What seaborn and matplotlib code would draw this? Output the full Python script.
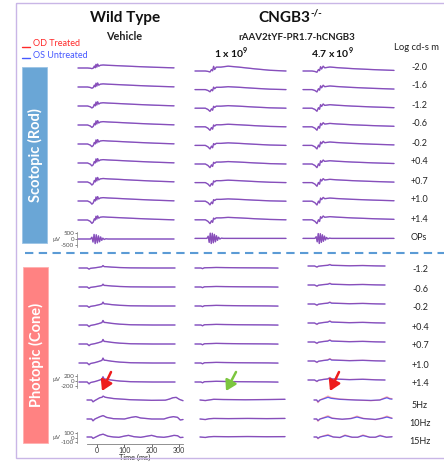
import pandas as pd
import matplotlib
matplotlib.use("Agg")
import matplotlib.pyplot as plt
from matplotlib.patches import Rectangle
import seaborn as sns

W, H = 444, 462
RED = "#ff2a2a"
BLUE = "#4658ff"

# ---------------- data (uV vs ms) ----------------
scot_labels = ["-2.0", "-1.6", "-1.2", "-0.6", "-0.2", "+0.4", "+0.7", "+1.0", "+1.4", "OPs"]
phot_labels = ["-1.2", "-0.6", "-0.2", "+0.4", "+0.7", "+1.0", "+1.4"]
flick_labels = ["5Hz", "10Hz", "15Hz"]

# scotopic flash: time, a-wave shape, b-wave shape, per-row gains
wt_scot_t = [-70, -35, -25, -19, -14, -10, -7, -4, -1, 2, 6, 12, 22, 40, 80, 140, 210, 282]
wt_scot_a = [0, 0, -0.4, -1.0, -0.7, -0.3, -0.1, 0, 0, 0, 0, 0, 0, 0, 0, 0, 0, 0]
wt_scot_b = [0, 0, 0, 0, 0.1, 0.7, 0.1, 1.2, 0.3, 1.3, 0.6, 0.9, 1.0, 0.9, 0.75, 0.5, 0.25, 0.05]
wt_scot_again = [50, 100, 160, 200, 220, 240, 250, 260, 280]
wt_scot_bgain = [250, 260, 270, 280, 280, 280, 290, 280, 260]

lo_scot_t = [-70, -30, -20, -12, -6, -2, 2, 6, 12, 30, 58, 100, 160, 220, 282]
lo_scot_a = [0, 0, -0.4, -1.0, -0.5, -0.8, -0.2, 0, 0, 0, 0, 0, 0, 0, 0]
lo_scot_b = [0, 0, 0, 0, 0.4, 0.2, 1.0, 0.3, 0.8, 0.8, 1.0, 0.8, 0.45, 0.15, 0.0]
lo_scot_again = [80, 180, 260, 290, 290, 300, 300, 300, 310]
lo_scot_bgain = [400, 240, 210, 210, 210, 200, 200, 190, 200]

hi_scot_t = [-70, -35, -24, -16, -10, -6, -2, 2, 8, 14, 34, 60, 120, 200, 282]
hi_scot_a = [0, 0, -0.4, -1.0, -0.4, -0.7, -0.1, 0, 0, 0, 0, 0, 0, 0, 0]
hi_scot_b = [0, 0, 0, 0, 0.5, 0.3, 1.1, 0.5, 1.2, 0.8, 1.0, 0.85, 0.6, 0.35, 0.15]
hi_scot_again = [100, 190, 250, 280, 290, 300, 300, 310, 310]
hi_scot_bgain = [330, 300, 290, 280, 280, 270, 270, 260, 260]

# oscillatory potentials
ops_t = [-70, -24, -19, -15, -11, -7, -3, 1, 5, 9, 13, 17, 21, 26, 32, 40, 282]
wt_ops = [0, 0, 150, -250, 380, -380, 350, -320, 260, -230, 170, -110, 70, -40, 20, 0, 0]
lo_ops = [0, 0, 180, -330, 430, -420, 420, -360, 330, -280, 220, -160, 100, -50, 20, 0, 0]
hi_ops = [0, 0, 140, -280, 400, -420, 390, -330, 300, -240, 190, -130, 80, -40, 20, 0, 0]

# photopic flash
wt_phot_t = [-70, -40, -33, -28, -10, 5, 14, 18, 22, 30, 50, 80, 120, 200, 282]
wt_phot_a = [0, 0, -1, -0.3, 0, 0, 0, 0, 0, 0, 0, 0, 0, 0, 0]
wt_phot_b = [0, 0, 0, 0, 0.15, 0.5, 0.75, 1.4, 0.8, 0.75, 0.5, 0.25, 0.08, 0, 0]
wt_phot_again = [45, 55, 55, 65, 65, 70, 75]
wt_phot_bgain = [70, 80, 110, 130, 130, 140, 150]

lo_phot_t = [-70, -45, -38, -30, 0, 20, 60, 120, 180, 240, 282]
lo_phot_a = [0, 0, -1, 0, 0, 0, 0, 0, 0, 0, 0]
lo_phot_b = [0, 0, 0, 0.3, 0.5, 0.7, 0.5, 0.3, 0.2, 0.1, -0.1]
lo_phot_again = [25, 25, 25, 30, 30, 30, 30]
lo_phot_bgain = [30, 30, 35, 35, 35, 35, 40]

hi_phot_t = [-70, -40, -29, -22, 0, 20, 30, 38, 60, 120, 180, 240, 282]
hi_phot_a = [0, 0, -1, -0.2, 0, 0, 0, 0, 0, 0, 0, 0, 0]
hi_phot_b = [0, 0, 0, 0, 0.3, 0.6, 1.2, 0.6, 0.5, 0.2, 0.4, 0.1, 0.0]
hi_phot_again = [40, 45, 45, 50, 50, 50, 55]
hi_phot_bgain = [45, 50, 55, 60, 60, 65, 70]

# flicker (uV)
wt_5hz_t = [-37, -20, -15, -8, 10, 18, 22, 30, 60, 120, 200, 250, 265, 278, 290, 302, 315]
wt_5hz_v = [0, 0, -40, -11, 50, 60, 85, 60, 32, 7, -7, -4, 20, 50, 58, 13, -15]
wt_10hz_t = [-37, -20, -15, -8, 10, 22, 35, 60, 100, 125, 142, 160, 200, 245, 262, 280, 295, 305, 315]
wt_10hz_v = [0, 0, -40, 0, 50, 75, 35, 7, 0, 36, 52, 22, 0, 0, 32, 52, 36, -22, -11]
wt_15hz_t = [-37, -20, -15, -5, 10, 22, 40, 60, 80, 100, 115, 135, 160, 185, 200, 220, 245, 265, 282, 295, 305, 315]
wt_15hz_v = [0, 0, -30, 0, 44, 62, 18, 0, -7, 20, 36, 7, -7, 20, 36, 4, -7, 12, 36, 28, -12, -7]

lo_5hz_t = [-37, -15, 0, 20, 60, 150, 250, 315]
lo_5hz_v = [0, -12, 0, 15, 10, 5, 10, 15]
lo_10hz_t = [-37, -15, 0, 20, 80, 160, 240, 315]
lo_10hz_v = [0, -12, 5, 12, 8, 12, 8, 12]
lo_15hz_t = [-37, -15, 0, 20, 80, 160, 240, 315]
lo_15hz_v = [0, -10, 4, 10, 6, 10, 6, 8]

hi_5hz_t = [-37, -25, -19, -10, 10, 26, 40, 80, 150, 220, 260, 280, 292, 305, 315]
hi_5hz_v = [0, 0, -40, 0, 32, 60, 38, 15, 0, -10, 0, 32, 50, 25, 20]
hi_10hz_t = [-37, -25, -19, -10, 10, 26, 45, 90, 130, 157, 185, 240, 270, 292, 310, 315]
hi_10hz_v = [0, 0, -35, 0, 28, 50, 15, -5, 10, 44, 10, -10, 15, 44, 20, 15]
hi_15hz_t = [-37, -25, -19, -10, 10, 26, 50, 80, 103, 135, 160, 184, 215, 240, 261, 290, 315]
hi_15hz_v = [0, 0, -28, 0, 22, 38, 0, -10, 32, -5, -5, 32, -5, -5, 28, -5, 5]

# treated (OD) / untreated (OS) amplitude ratio per column
od_ratio_scot = [1.0, 1.03, 1.02]
od_ratio_phot = [1.0, 1.1, 1.25]
od_ratio_flick = [1.0, 1.15, 1.45]

# ---------------- helpers ----------------
sns.set_theme(style="white")
plt.rcParams["font.family"] = ["Lato", "DejaVu Sans"]
plt.rcParams["mathtext.fontset"] = "custom"
plt.rcParams["mathtext.rm"] = "Lato"
plt.rcParams["mathtext.bf"] = "Lato:bold"

fig = plt.figure(figsize=(W / 100, H / 100), dpi=100)


def px_axes(x0, x1, top, bottom):
    ax = fig.add_axes([x0 / W, 1 - bottom / H, (x1 - x0) / W, (bottom - top) / H])
    ax.patch.set_alpha(0)
    return ax


def block(x0, x1, top, bottom, rows_px, k, xlim):
    ax = px_axes(x0, x1, top, bottom)
    ref = rows_px[0]
    ax.set_xlim(xlim)
    ax.set_ylim(-(bottom - ref) * k, (ref - top) * k)
    ax.set_axis_off()
    return ax, [-(r - ref) * k for r in rows_px]


def draw(ax, traces, offsets, od_ratio):
    recs = []
    for i, (t, v) in enumerate(traces):
        for tt, vv in zip(t, v):
            recs.append((tt, vv + offsets[i], i, "OS"))
            recs.append((tt, vv * od_ratio + offsets[i], i, "OD"))
    df = pd.DataFrame(recs, columns=["t", "v", "row", "eye"])
    sns.lineplot(data=df[df.eye == "OS"], x="t", y="v", units="row", estimator=None,
                 sort=False, color=BLUE, lw=0.95, alpha=0.95, ax=ax)
    sns.lineplot(data=df[df.eye == "OD"], x="t", y="v", units="row", estimator=None,
                 sort=False, color=RED, lw=0.95, alpha=0.33, ax=ax)
    for ln in ax.lines:
        ln.set_clip_on(False)
    ax.set_axis_off()


def flash_rows(t, a_shape, b_shape, a_gain, b_gain):
    return [(t, [ga * a + gb * b for a, b in zip(a_shape, b_shape)])
            for ga, gb in zip(a_gain, b_gain)]


# ---------------- scotopic ----------------
K_SCOT, K_PHOT, K_FLICK = 83, 40, 22
rows_scot_1 = [68 + 19 * i for i in range(10)]
rows_scot_23 = [71 + 18.6 * i for i in range(10)]

scot_cols = [
    (78, 174, rows_scot_1, wt_scot_t, wt_scot_a, wt_scot_b, wt_scot_again, wt_scot_bgain, wt_ops),
    (195, 286, rows_scot_23, lo_scot_t, lo_scot_a, lo_scot_b, lo_scot_again, lo_scot_bgain, lo_ops),
    (303, 394, rows_scot_23, hi_scot_t, hi_scot_a, hi_scot_b, hi_scot_again, hi_scot_bgain, hi_ops),
]
for c, (x0, x1, rows, t, a, b, ga, gb, ops) in enumerate(scot_cols):
    ax, offs = block(x0, x1, 58, 250, rows, K_SCOT, (-70, 282))
    draw(ax, flash_rows(t, a, b, ga, gb) + [(ops_t, ops)], offs, od_ratio_scot[c])

# ---------------- photopic flash ----------------
rows_phot = [268 + 19 * i for i in range(7)]
rows_phot_3 = [r - 2 for r in rows_phot]
phot_cols = [
    (79, 175, rows_phot, wt_phot_t, wt_phot_a, wt_phot_b, wt_phot_again, wt_phot_bgain),
    (195, 278, rows_phot, lo_phot_t, lo_phot_a, lo_phot_b, lo_phot_again, lo_phot_bgain),
    (308, 385, rows_phot_3, hi_phot_t, hi_phot_a, hi_phot_b, hi_phot_again, hi_phot_bgain),
]
for c, (x0, x1, rows, t, a, b, ga, gb) in enumerate(phot_cols):
    ax, offs = block(x0, x1, 258, 390, rows, K_PHOT, (-70, 282))
    draw(ax, flash_rows(t, a, b, ga, gb), offs, od_ratio_phot[c])

# ---------------- flicker ----------------
rows_flick = [400, 419, 437]
flick_cols = [
    (87, 183, [(wt_5hz_t, wt_5hz_v), (wt_10hz_t, wt_10hz_v), (wt_15hz_t, wt_15hz_v)]),
    (200, 285, [(lo_5hz_t, lo_5hz_v), (lo_10hz_t, lo_10hz_v), (lo_15hz_t, lo_15hz_v)]),
    (314, 392, [(hi_5hz_t, hi_5hz_v), (hi_10hz_t, hi_10hz_v), (hi_15hz_t, hi_15hz_v)]),
]
time_ax = None
for c, (x0, x1, traces) in enumerate(flick_cols):
    ax, offs = block(x0, x1, 391, 444, rows_flick, K_FLICK, (-37, 315))
    draw(ax, traces, offs, od_ratio_flick[c])
    if c == 0:
        time_ax = ax

# time axis under the wild-type flicker traces
time_ax.set_axis_on()
for s in ["top", "right", "left"]:
    time_ax.spines[s].set_visible(False)
time_ax.spines["bottom"].set_color("#7f7f7f")
time_ax.spines["bottom"].set_linewidth(0.6)
time_ax.set_yticks([])
time_ax.set_xticks([0, 100, 200, 300])
time_ax.tick_params(axis="x", length=2, width=0.5, pad=0.3, labelsize=5, colors="#333333",
                    bottom=True, direction="out")
time_ax.set_xlabel("Time (ms)", fontsize=5.3, labelpad=0, color="#222222")
time_ax.set_ylabel("")

# ---------------- scale bars ----------------
scale_bars = [(239, K_SCOT, [-500, 0, 500], 7.5),
              (381, K_PHOT, [-200, 0, 200], 7),
              (437.5, K_FLICK, [-100, 0, 100], 5.5)]
for y0, k, ticks, half in scale_bars:
    sax = px_axes(77, 78, y0 - 10, y0 + 10)
    sax.set_ylim(-10 * k, 10 * k)
    sax.set_xticks([])
    sax.set_yticks(ticks)
    sax.set_yticklabels([str(v) for v in ticks])
    for s in ["top", "right", "bottom"]:
        sax.spines[s].set_visible(False)
    sax.spines["left"].set_bounds(-half * k, half * k)
    sax.spines["left"].set_color("#7f7f7f")
    sax.spines["left"].set_linewidth(0.5)
    sax.tick_params(axis="y", length=1.5, width=0.5, pad=0.5, labelsize=4.5, colors="#555555",
                    left=True)

# ---------------- overlay: titles, labels, bars, arrows ----------------
ov = fig.add_axes([0, 0, 1, 1], zorder=10)
ov.patch.set_alpha(0)
ov.set_xlim(0, W)
ov.set_ylim(H, 0)
ov.set_axis_off()

ov.add_patch(Rectangle((16, 3), 440, 455, fill=False, ec="#c9b6e6", lw=1.0))
ov.plot([25, 444], [253, 253], ls=(0, (4, 2.6)), color="#5b9bd5", lw=1.5)

ov.add_patch(Rectangle((22, 67), 25, 176, fc="#6aa6d6", ec="#9cc4e6", lw=0.6))
ov.add_patch(Rectangle((23, 267), 25, 176, fc="#ff8282", ec="#ffb0b0", lw=0.6))
ov.text(35, 155, "Scotopic (Rod)", rotation=90, color="white", fontsize=10.5,
        fontweight="bold", ha="center", va="center")
ov.text(36, 355, "Photopic (Cone)", rotation=90, color="white", fontsize=10.5,
        fontweight="bold", ha="center", va="center")

ov.text(125, 18, "Wild Type", fontsize=11, fontweight="bold", ha="center", va="center", color="#111111")
ov.text(284, 18, "CNGB3", fontsize=11, fontweight="bold", ha="center", va="center", color="#111111")
ov.text(310, 13, "-/-", fontsize=7, fontweight="bold", ha="left", va="center", color="#111111")
ov.text(124, 37, "Vehicle", fontsize=7.8, fontweight="bold", ha="center", va="center", color="#222222")
ov.text(297, 37, "rAAV2tYF-PR1.7-hCNGB3", fontsize=7, fontweight="bold", ha="center",
        va="center", color="#222222")
ov.text(231, 53, r"1 x 10$^{\mathbf{9}}$", fontsize=7.5, fontweight="bold", ha="center",
        va="center", color="#111111")
ov.text(332, 53, r"4.7 x 10$^{\mathbf{9}}$", fontsize=7.5, fontweight="bold", ha="center",
        va="center", color="#111111")
ov.text(394, 47, "Log cd-s m", fontsize=6.8, ha="left", va="center", color="#222222")

ov.plot([22, 30], [47, 47], color=RED, lw=1.0)
ov.text(33, 44, "OD Treated", fontsize=6.5, color=RED, ha="left", va="center")
ov.plot([22, 30], [58, 58], color=BLUE, lw=1.0)
ov.text(33, 55, "OS Untreated", fontsize=6.5, color=BLUE, ha="left", va="center")

for lab, y in zip(scot_labels, rows_scot_1):
    ov.text(419, y - 1, lab, fontsize=6.5, ha="center", va="center", color="#222222")
for lab, y in zip(phot_labels + flick_labels, rows_phot + [r + 3 for r in rows_flick]):
    ov.text(420, y + 2, lab, fontsize=6.5, ha="center", va="center", color="#222222")

for y in [239, 379, 437]:
    ov.text(56, y, "μV", fontsize=4.5, ha="center", va="center", color="#555555")

for (tail, head, col) in [((111, 372), (102, 391), "#ee1c1c"),
                          ((236, 372), (226, 391), "#7cc63f"),
                          ((339, 372), (330, 391), "#ee1c1c")]:
    ov.annotate("", xy=head, xytext=tail,
                arrowprops=dict(arrowstyle="-|>,head_length=0.5,head_width=0.3",
                                color=col, lw=1.8, shrinkA=0, shrinkB=0))

fig.savefig("out.png", dpi=100)
